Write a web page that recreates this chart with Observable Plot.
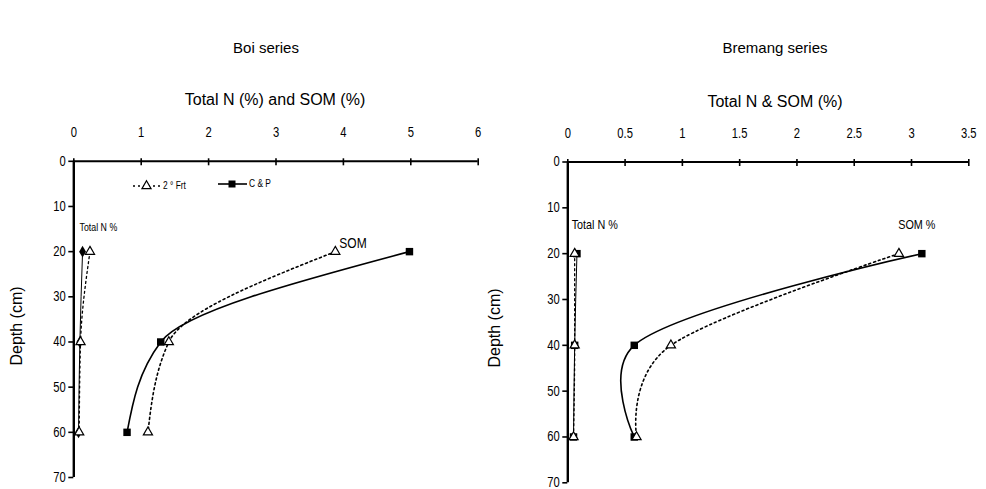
<!DOCTYPE html>
<html>
<head>
<meta charset="utf-8">
<script src="https://cdn.jsdelivr.net/npm/d3@7"></script>
<script src="https://cdn.jsdelivr.net/npm/@observablehq/plot@0.6"></script>
<style>
  html, body { margin: 0; padding: 0; background: #fff; }
  #chart { position: relative; width: 986px; height: 489px; overflow: hidden; font-family: "Liberation Sans", Arial, sans-serif; color: #000; }
  .panel { position: absolute; top: 0; }
  .title { position: absolute; font-size: 15px; transform: translateX(-50%); white-space: nowrap; line-height: 1; }
  .subtitle { position: absolute; font-size: 16px; transform: translateX(-50%); white-space: nowrap; line-height: 1; }
  .legend { position: absolute; font-family: "Liberation Sans", sans-serif; font-size: 9px; }
</style>
</head>
<body>
<div id="chart"></div>
<script>
// Depths sampled (cm)
const depths = [20, 40, 60];

// Boi series — Total N (%) and soil organic matter (%)
const boiNFrt = [0.24, 0.10, 0.08];
const boiNCP = [0.13, 0.09, 0.07];
const boiSomFrt = [3.88, 1.41, 1.10];
const boiSomCP = [4.98, 1.29, 0.79];

// Bremang series
const bremNFrt = [0.06, 0.06, 0.05];
const bremNCP = [0.08, 0.06, 0.05];
const bremSomFrt = [2.89, 0.90, 0.60];
const bremSomCP = [3.09, 0.58, 0.58];

// Axis ticks
const depthTicks = [0, 10, 20, 30, 40, 50, 60, 70];
const boiTicks = [0, 1, 2, 3, 4, 5, 6];
const bremTicks = [0, 0.5, 1, 1.5, 2, 2.5, 3, 3.5];

// Legend entries
const treatments = ["2 ° Frt", "C & P"];

const font = "'Liberation Sans', Arial, sans-serif";

const rows = (vals) => vals.map((v, i) => ({value: v, depth: depths[i]}));

// A depth profile: smoothed line through the three samples plus its markers
function profile(data, {dashed, width, symbol, curve = "monotone-y", tension}) {
  const marks = [
    Plot.line(data, {
      x: "value", y: "depth", curve, tension,
      stroke: "#000", strokeWidth: width,
      strokeDasharray: dashed ? "2,3" : null
    })
  ];
  if (symbol === "triangle") {
    marks.push(Plot.dot(data, {x: "value", y: "depth", symbol: "triangle", r: 3.4, fill: "#fff", stroke: "#000", strokeWidth: 1.2}));
  } else {
    marks.push(Plot.dot(data, {x: "value", y: "depth", symbol, r: symbol === "diamond" ? 3.6 : 4.2, fill: "#000", stroke: "none"}));
  }
  return marks;
}

function panel({xDomain, xTicks, tickFmt, marginLeft, marginRight, marginTop, marginBottom, layers, notes}) {
  return Plot.plot({
    width: 493,
    height: 489,
    marginLeft, marginRight, marginTop, marginBottom,
    style: {fontFamily: font, fontSize: "14px", color: "#000", background: "transparent", overflow: "visible"},
    x: {domain: xDomain},
    y: {domain: [0, 70], reverse: true},
    marks: [
      // top axis: tick marks crossing the line, then labels
      Plot.axisX(xTicks, {anchor: "top", tickSize: 7, dy: 3.5, fill: "none", stroke: "#000", strokeWidth: 1.6, label: null}),
      Plot.axisX(xTicks, {anchor: "top", tickSize: 0, tickPadding: 24, tickFormat: tickFmt, label: null, fontSize: 14}),
      Plot.axisY(depthTicks, {anchor: "left", tickSize: 5, tickPadding: 3, stroke: "#000", strokeWidth: 1.6, label: null, fontSize: 14}),
      Plot.ruleY([0], {stroke: "#000", strokeWidth: 2}),
      Plot.ruleX([0], {stroke: "#000", strokeWidth: 2.4}),
      ...layers,
      ...notes
    ]
  });
}

const chart = document.getElementById("chart");

// Squeeze SVG text horizontally to a narrow face
function condense(root, k) {
  root.querySelectorAll("text").forEach((t) => {
    const spans = t.querySelectorAll("tspan");
    (spans.length ? Array.from(spans) : [t]).forEach((el) => {
      const w = el.getComputedTextLength();
      if (w > 0) {
        el.setAttribute("textLength", (w * k).toFixed(2));
        el.setAttribute("lengthAdjust", "spacingAndGlyphs");
      }
    });
  });
}

function place(node, left) {
  node.classList.add("panel");
  node.style.left = left + "px";
  chart.appendChild(node);
  condense(node, 0.8);
}

// Boi series
const boiNFrtRows = rows(boiNFrt), boiNCPRows = rows(boiNCP);
const boiSomFrtRows = rows(boiSomFrt), boiSomCPRows = rows(boiSomCP);
place(panel({
  xDomain: [0, 6], xTicks: boiTicks, tickFmt: d3.format("d"),
  marginLeft: 73.3, marginRight: 15.3, marginTop: 160.8, marginBottom: 12,
  layers: [
    ...profile(boiNCPRows, {dashed: false, width: 1, symbol: "diamond"}),
    ...profile(boiNFrtRows, {dashed: true, width: 1.3, symbol: "triangle"}),
    ...profile(boiSomCPRows, {dashed: false, width: 1.6, symbol: "square"}),
    ...profile(boiSomFrtRows, {dashed: true, width: 1.6, symbol: "triangle"})
  ],
  notes: [
    Plot.text(boiNCPRows.slice(0, 1), {x: "value", y: "depth", text: () => "Total N %", textAnchor: "start", dx: -3, dy: -24, fontSize: 11}),
    Plot.text(boiSomFrtRows.slice(0, 1), {x: "value", y: "depth", text: () => "SOM", textAnchor: "start", dx: 4, dy: -8, fontSize: 15})
  ]
}), 0);

// Bremang series
const bremNFrtRows = rows(bremNFrt), bremNCPRows = rows(bremNCP);
const bremSomFrtRows = rows(bremSomFrt), bremSomCPRows = rows(bremSomCP);
place(panel({
  xDomain: [0, 3.5], xTicks: bremTicks, tickFmt: d3.format("~g"),
  marginLeft: 74.3, marginRight: 17.7, marginTop: 161.5, marginBottom: 6.7,
  layers: [
    ...profile(bremNCPRows, {dashed: false, width: 1, symbol: "square"}),
    ...profile(bremNFrtRows, {dashed: true, width: 1.3, symbol: "triangle"}),
    ...profile(bremSomCPRows, {dashed: false, width: 1.6, symbol: "square", curve: "catmull-rom", tension: 0.25}),
    ...profile(bremSomFrtRows, {dashed: true, width: 1.6, symbol: "triangle", curve: "catmull-rom", tension: 0})
  ],
  notes: [
    Plot.text(bremNFrtRows.slice(0, 1), {x: "value", y: "depth", text: () => "Total N %", textAnchor: "start", dx: -3, dy: -29, fontSize: 13.5}),
    Plot.text(bremSomCPRows.slice(0, 1), {x: "value", y: "depth", text: () => "SOM %", textAnchor: "middle", dx: -5, dy: -29, fontSize: 13.5})
  ]
}), 493);

// Titles, axis titles and the y labels
function addText(cls, text, left, top, extra) {
  const el = document.createElement("div");
  el.className = cls;
  el.textContent = text;
  el.style.left = left + "px";
  el.style.top = top + "px";
  if (extra) Object.assign(el.style, extra);
  chart.appendChild(el);
  return el;
}
addText("title", "Boi series", 266, 40);
addText("title", "Bremang series", 775, 40);
addText("subtitle", "Total N (%) and SOM (%)", 275, 92);
addText("subtitle", "Total N & SOM (%)", 775, 94);
addText("subtitle", "Depth (cm)", 17, 318, {transform: "translateX(-50%) rotate(-90deg)"});
addText("subtitle", "Depth (cm)", 495, 320, {transform: "translateX(-50%) rotate(-90deg)"});

// Treatment legend drawn inside the Boi panel
const legend = document.createElement("div");
legend.className = "legend";
legend.style.left = "130px";
legend.style.top = "176px";
legend.innerHTML = `
<svg width="160" height="20" style="overflow:visible">
  <line x1="3" y1="10" x2="30" y2="10" stroke="#000" stroke-width="1.3" stroke-dasharray="2,3"/>
  <path d="${d3.symbol(d3.symbolTriangle, 36)()}" transform="translate(16.5,10)" fill="#fff" stroke="#000" stroke-width="1.2"/>
  <text x="33" y="13" font-size="10.5">${treatments[0]}</text>
  <line x1="88" y1="8" x2="117" y2="8" stroke="#000" stroke-width="1.6"/>
  <rect x="98.5" y="4.5" width="7" height="7" fill="#000"/>
  <text x="119" y="11" font-size="10.5">${treatments[1]}</text>
</svg>`;
chart.appendChild(legend);
condense(legend, 0.8);
</script>
</body>
</html>
